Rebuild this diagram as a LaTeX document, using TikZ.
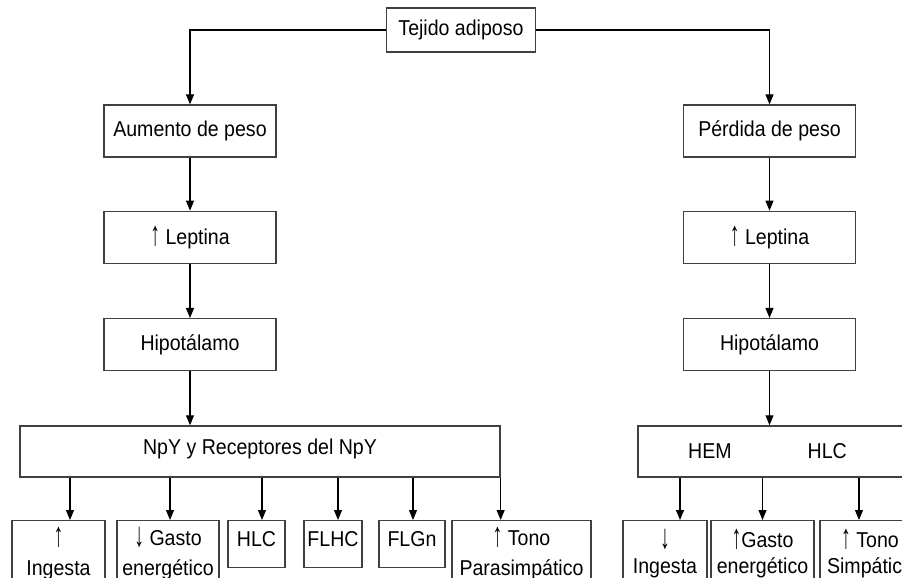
\documentclass[tikz,border=0pt]{standalone}
\usepackage{fontspec}
\setmainfont{Liberation Sans}[FakeStretch=0.91]
\usetikzlibrary{arrows.meta,positioning}
\newcommand{\flup}{\raisebox{-1pt}{\scalebox{1}[1.6]{↑}}}
\newcommand{\fldown}{\raisebox{-1pt}{\scalebox{1}[1.6]{↓}}}

\begin{document}
\begin{tikzpicture}[
  x=1pt, y=1pt,
  box/.style={
    rectangle, draw=black!75, line width=1.3pt,
    font=\fontsize{21.5}{30}\selectfont, align=center,
    inner xsep=2pt, inner ysep=2pt
  },
  mid/.style={box, minimum width=172pt, minimum height=52pt},
  leaf/.style={box, anchor=north, minimum height=47pt, text depth=11pt},
  tall/.style={box, anchor=north, minimum height=65pt},
  tallR/.style={tall, font=\fontsize{21.5}{26}\selectfont},
  arr/.style={-{Triangle[length=10pt,width=8pt]}, line width=1.1pt, black},
]
\useasboundingbox (0,0) rectangle (902,-578);
\clip (0,0) rectangle (902,-578);

% ── Nodes ──
\node[box, minimum width=149pt, minimum height=44pt] (tejido) at (461,-30)
  {Tejido adiposo};

\node[mid] (aumento) at (190,-131) {Aumento de peso};
\node[mid, below=53pt of aumento] (leptA) {\flup\ Leptina};
\node[mid, below=54pt of leptA] (hipoA) {Hipotálamo};
\node[box, minimum width=480pt, minimum height=51pt, text depth=10pt,
  below=54pt of hipoA, xshift=70pt] (npy) {NpY y Receptores del NpY};

\node[mid] (perdida) at (769.5,-131) {Pérdida de peso};
\node[mid, below=53pt of perdida] (leptP) {\flup\ Leptina};
\node[mid, below=54pt of leptP] (hipoP) {Hipotálamo};
\node[box, minimum width=277pt, minimum height=51pt,
  below=54pt of hipoP, xshift=7pt] (hem) {HEM\hspace{76pt}HLC\hspace{18pt}};

\node[tall, minimum width=93pt] (ingA) at (58.5,-520) {\flup\\Ingesta};
\node[tall, minimum width=102pt] (gasA) at (168,-520) {\fldown\ Gasto\\energético};
\node[leaf, minimum width=57pt] (hlcA) at (256.5,-520) {HLC};
\node[leaf, minimum width=58pt] (flhc) at (333,-520) {FLHC};
\node[leaf, minimum width=66pt] (flgn) at (412,-520) {FLGn};
\node[tall, minimum width=139pt] (tonoP) at (521.5,-520) {\flup\ Tono\\Parasimpático};

\node[tallR, minimum width=84pt] (ingP) at (665,-520) {\fldown\\Ingesta};
\node[tallR, minimum width=103pt] (gasP) at (762.5,-520) {\flup Gasto\\energético};
\node[tallR, minimum width=100pt] (tonoS) at (870,-520) {\flup\ Tono\\Simpático};

% ── Edges ──
\draw[arr] (tejido.west) -| (aumento.north);
\draw[arr] (tejido.east) -| (perdida.north);
\draw[arr] (aumento) -- (leptA);
\draw[arr] (leptA) -- (hipoA);
\draw[arr] (hipoA.south) -- (hipoA.south |- npy.north);
\draw[arr] (perdida) -- (leptP);
\draw[arr] (leptP) -- (hipoP);
\draw[arr] (hipoP.south) -- (hipoP.south |- hem.north);

\draw[arr] ([xshift=11.5pt]ingA.north |- npy.south) -- ([xshift=11.5pt]ingA.north);
\draw[arr] ([xshift=2pt]gasA.north |- npy.south) -- ([xshift=2pt]gasA.north);
\draw[arr] ([xshift=5.5pt]hlcA.north |- npy.south) -- ([xshift=5.5pt]hlcA.north);
\draw[arr] ([xshift=5pt]flhc.north |- npy.south) -- ([xshift=5pt]flhc.north);
\draw[arr] ([xshift=1pt]flgn.north |- npy.south) -- ([xshift=1pt]flgn.north);
\draw[arr] (npy.south east) -- (npy.south east |- tonoP.north);

\draw[arr] ([xshift=15pt]ingP.north |- hem.south) -- ([xshift=15pt]ingP.north);
\draw[arr] (gasP.north |- hem.south) -- (gasP.north);
\draw[arr] ([xshift=-11pt]tonoS.north |- hem.south) -- ([xshift=-11pt]tonoS.north);
\end{tikzpicture}
\end{document}
